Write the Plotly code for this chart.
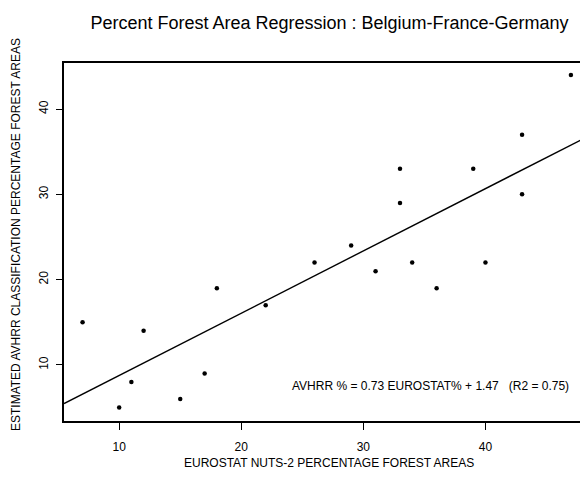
import plotly.graph_objects as go

# Data
eurostat_pct = [7, 10, 11, 12, 15, 17, 18, 22, 26, 29, 31, 33, 33, 34, 36, 39, 40, 43, 43, 47]
avhrr_pct = [15, 5, 8, 14, 6, 9, 19, 17, 22, 24, 21, 33, 29, 22, 19, 33, 22, 37, 30, 44]

slope = 0.73
intercept = 1.47
x_range = [5.48, 48.4]
y_range = [3.43, 45.4]
tick_vals = [10, 20, 30, 40]

title_text = "Percent Forest Area Regression : Belgium-France-Germany"
x_title = "EUROSTAT NUTS-2 PERCENTAGE FOREST AREAS"
y_title = "ESTIMATED AVHRR CLASSIFICATION PERCENTAGE FOREST AREAS"
eq_text = "AVHRR % = 0.73 EUROSTAT% + 1.47&nbsp;&nbsp;&nbsp;(R2 = 0.75)"

FONT = "Liberation Sans, Arial, Helvetica, sans-serif"

# The page places the figure 8px from the top-left corner
OFF = 8
W, H = 580, 472
PL, PR, PT, PB = 64, 588, 63, 421  # plot area in window pixels
pw, ph = PR - PL, PB - PT

line_x = x_range
line_y = [slope * v + intercept for v in line_x]

fig = go.Figure()
fig.add_trace(go.Scatter(x=line_x, y=line_y, mode="lines",
                         line=dict(color="black", width=1.4), showlegend=False,
                         hoverinfo="skip"))
fig.add_trace(go.Scatter(x=eurostat_pct, y=avhrr_pct, mode="markers",
                         marker=dict(color="black", size=4.5), showlegend=False))

fig.update_layout(
    width=W, height=H,
    margin=dict(l=PL - OFF, r=W + OFF - PR, t=PT - OFF, b=H + OFF - PB),
    paper_bgcolor="white", plot_bgcolor="white",
    font=dict(family=FONT, color="black", size=12),
    title=dict(text=title_text, x=(329.5 - OFF) / W, y=1 - (23 - OFF) / H,
               xanchor="center", yanchor="middle",
               font=dict(size=18, family=FONT, color="black")),
    xaxis=dict(range=x_range, tickvals=tick_vals, ticks="outside", ticklen=7,
               tickwidth=1.2, tickcolor="black", showline=True, linecolor="black",
               linewidth=1.6, mirror=True, showgrid=False, zeroline=False,
               ticklabelstandoff=7,
               tickfont=dict(size=12, family=FONT, color="black")),
    yaxis=dict(range=y_range, tickvals=tick_vals, ticks="outside", ticklen=6,
               tickwidth=1.2, tickcolor="black", showline=True, linecolor="black",
               linewidth=1.6, mirror=False, showgrid=False, zeroline=False,
               tickangle=-90, ticklabelstandoff=3,
               tickfont=dict(size=12, family=FONT, color="black")),
    annotations=[
        dict(text=x_title, xref="paper", yref="paper", x=(329 - PL) / pw,
             y=-(463 - PB) / ph,
             xanchor="center", yanchor="middle", showarrow=False,
             font=dict(size=12, family=FONT, color="black")),
        dict(text=y_title, xref="paper", yref="paper", x=(16 - PL) / pw,
             y=(PB - 235) / ph,
             xanchor="center", yanchor="middle", showarrow=False, textangle=-90,
             font=dict(size=12, family=FONT, color="black")),
        dict(text=eq_text, xref="x", yref="y", x=35.5, y=7.57,
             xanchor="center", yanchor="middle", showarrow=False,
             font=dict(size=12, family=FONT, color="black")),
    ],
)

fig.write_html("out.html")
